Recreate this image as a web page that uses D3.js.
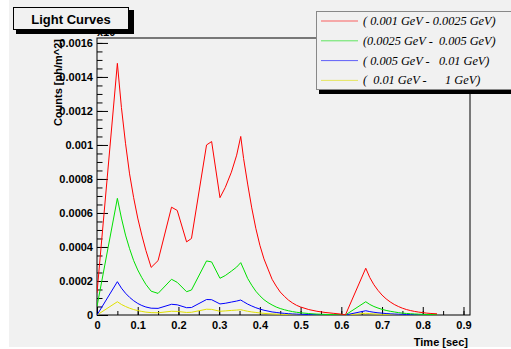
<!DOCTYPE html>
<html>
<head>
<meta charset="utf-8">
<script src="https://cdn.jsdelivr.net/npm/d3@7"></script>
<style>
  body { margin: 0; background: #ffffff; }
  svg text { font-family: "Liberation Sans", Arial, sans-serif; }
</style>
</head>
<body>
<div id="chart"></div>
<script>
// time bins [sec]
var times = [0, 0.05, 0.06, 0.07, 0.08, 0.09, 0.10, 0.11, 0.12, 0.133, 0.15, 0.183, 0.197, 0.22, 0.232, 0.269, 0.2815, 0.302, 0.315, 0.33, 0.343, 0.353,
  0.36, 0.37, 0.38, 0.39, 0.40, 0.41, 0.42, 0.43, 0.44, 0.45, 0.46, 0.47, 0.48, 0.49, 0.50, 0.52, 0.54, 0.56, 0.58, 0.60, 0.61,
  0.66, 0.67, 0.68, 0.69, 0.70, 0.71, 0.72, 0.73, 0.74, 0.75, 0.76, 0.77, 0.78, 0.79, 0.80, 0.81, 0.82, 0.835];

// counts per energy band [ph/m^2]
var band1 = [0.00013, 0.00148, 0.00122, 0.00101, 0.00083, 0.00069, 0.00057, 0.00047, 0.00038, 0.00028, 0.00032, 0.000634, 0.000615, 0.00043, 0.00045, 0.001, 0.00102, 0.00069, 0.00075, 0.00084, 0.00094, 0.00105,
  0.00092, 0.00077, 0.00063, 0.00051, 0.00041, 0.00033, 0.00027, 0.00021, 0.00017, 0.000135, 0.00011, 0.000088, 0.000071, 0.000057, 0.000047, 0.000032, 0.000022, 0.000015, 0.00001, 0.000005, 0,
  0.000275, 0.00022, 0.000178, 0.000145, 0.000117, 0.000095, 0.000077, 0.000062, 0.00005, 0.00004, 0.000032, 0.000026, 0.000021, 0.000017, 0.000014, 0.000011, 0.000009, 0.000007];
var band2 = [0.00005, 0.000686, 0.00057, 0.00047, 0.00039, 0.00032, 0.000265, 0.00022, 0.00018, 0.00014, 0.000127, 0.00021, 0.000192, 0.000137, 0.000147, 0.000318, 0.000312, 0.000216, 0.000232, 0.000258, 0.000282, 0.000308,
  0.00027, 0.000215, 0.000175, 0.00014, 0.000113, 0.00009, 0.000073, 0.000059, 0.000047, 0.000038, 0.000031, 0.000025, 0.00002, 0.000016, 0.000013, 0.0000085, 0.0000055, 0.0000035, 0.0000022, 0.0000012, 0,
  0.000078, 0.000062, 0.00005, 0.000041, 0.000033, 0.000027, 0.000022, 0.000018, 0.000014, 0.000011, 0.000009, 0.0000074, 0.000006, 0.0000048, 0.0000039, 0.0000031, 0.0000025, 0.000002];
var band3 = [0, 0.000196, 0.000158, 0.000128, 0.000104, 0.000084, 0.000068, 0.000056, 0.000047, 0.00004, 0.000039, 0.000063, 0.00006, 0.000043, 0.000044, 0.000091, 0.00009, 0.000065, 0.000069, 0.000076, 0.000082, 0.000088,
  0.000078, 0.000064, 0.000053, 0.000043, 0.000035, 0.000028, 0.000023, 0.000018, 0.000015, 0.000012, 0.0000097, 0.0000078, 0.0000063, 0.0000051, 0.0000041, 0.0000027, 0.0000018, 0.0000012, 0.0000008, 0.0000004, 0,
  0.000025, 0.00002, 0.000016, 0.000013, 0.000011, 0.0000087, 0.000007, 0.0000057, 0.0000046, 0.0000037, 0.000003, 0.0000024, 0.000002, 0.0000016, 0.0000013, 0.000001, 0.0000008, 0.0000006];
var band4 = [0, 0.000078, 0.000062, 0.00005, 0.00004, 0.000032, 0.000026, 0.000021, 0.000017, 0.000014, 0.000013, 0.000022, 0.000021, 0.000015, 0.000016, 0.000034, 0.000033, 0.000022, 0.000024, 0.000027, 0.000029, 0.000031,
  0.000027, 0.000022, 0.000018, 0.000015, 0.000012, 0.0000097, 0.0000079, 0.0000064, 0.0000052, 0.0000042, 0.0000034, 0.0000027, 0.0000022, 0.0000018, 0.0000014, 0.0000009, 0.0000006, 0.0000004, 0.0000003, 0.0000001, 0,
  0.00001, 0.000008, 0.0000065, 0.0000053, 0.0000043, 0.0000035, 0.0000028, 0.0000023, 0.0000018, 0.0000015, 0.0000012, 0.000001, 0.0000008, 0.0000006, 0.0000005, 0.0000004, 0.0000003, 0.0000003];

var bandLabels = ["( 0.001 GeV - 0.0025 GeV)", "(0.0025 GeV -  0.005 GeV)", "( 0.005 GeV -   0.01 GeV)", "(  0.01 GeV -      1 GeV)"];
var bandColors = ["#ff0000", "#00e000", "#0000ff", "#e0e000"];

var xTicks = [0, 0.1, 0.2, 0.3, 0.4, 0.5, 0.6, 0.7, 0.8, 0.9];
var yTicks = [0, 0.0002, 0.0004, 0.0006, 0.0008, 0.001, 0.0012, 0.0014, 0.0016];

var width = 511, height = 349;
var frame = { left: 97, top: 38, right: 470, bottom: 315 };

var svg = d3.select("#chart").append("svg")
    .attr("width", width)
    .attr("height", height);

// canvas background
svg.append("rect").attr("x", 9).attr("y", 0).attr("width", width - 9).attr("height", 347)
    .attr("fill", "#f1f1f1");

var x = d3.scaleLinear().domain([0, 0.916]).range([frame.left, frame.right]);
var y = d3.scaleLinear().domain([0, 0.001629]).range([frame.bottom, frame.top]);

svg.append("defs").append("clipPath").attr("id", "clip")
    .append("rect")
    .attr("x", frame.left).attr("y", frame.top)
    .attr("width", frame.right - frame.left).attr("height", frame.bottom - frame.top);

// minor ticks
var xMinor = d3.range(0, 0.916, 0.05);
var yMinor = d3.range(0, 0.00163, 0.00005);

svg.append("g")
    .attr("transform", "translate(0," + frame.bottom + ")")
    .call(d3.axisBottom(x).tickValues(xMinor).tickSizeInner(-4).tickSizeOuter(0).tickFormat(""))
    .call(g => g.select(".domain").remove());
svg.append("g")
    .attr("transform", "translate(" + frame.left + ",0)")
    .call(d3.axisLeft(y).tickValues(yMinor).tickSizeInner(-5.5).tickSizeOuter(0).tickFormat(""))
    .call(g => g.select(".domain").remove());

// major ticks + labels
var xAxis = svg.append("g")
    .attr("transform", "translate(0," + frame.bottom + ")")
    .call(d3.axisBottom(x).tickValues(xTicks).tickSizeInner(-8).tickSizeOuter(0).tickPadding(6)
        .tickFormat(d => d3.format("~g")(d)));
xAxis.select(".domain").remove();
xAxis.selectAll("text")
    .style("font-family", "'Liberation Sans', Arial, sans-serif")
    .style("font-size", "11px").style("font-weight", "bold").attr("fill", "#000");

var yAxis = svg.append("g")
    .attr("transform", "translate(" + frame.left + ",0)")
    .call(d3.axisLeft(y).tickValues(yTicks).tickSizeInner(-11).tickSizeOuter(0).tickPadding(4)
        .tickFormat(d => d3.format("~g")(d)));
yAxis.select(".domain").remove();
yAxis.selectAll("text")
    .style("font-family", "'Liberation Sans', Arial, sans-serif")
    .style("font-size", "11px").style("font-weight", "bold").attr("fill", "#000");
svg.selectAll(".tick line").attr("stroke", "#000");

// frame
svg.append("rect")
    .attr("x", frame.left).attr("y", frame.top)
    .attr("width", frame.right - frame.left).attr("height", frame.bottom - frame.top)
    .attr("fill", "none").attr("stroke", "#000").attr("stroke-width", 1);

// curves
var series = [band1, band2, band3, band4];
var line = d3.line()
    .x(function(d) { return x(d[0]); })
    .y(function(d) { return y(d[1]); });

var curves = svg.append("g").attr("clip-path", "url(#clip)");
curves.selectAll("path")
    .data(series.slice().reverse())
    .enter()
    .append("path")
    .attr("d", function(vals) { return line(times.map(function(t, i) { return [t, vals[i]]; })); })
    .attr("fill", "none")
    .attr("stroke", function(vals) { return bandColors[series.indexOf(vals)]; })
    .attr("stroke-width", 1);

// axis titles
svg.append("text")
    .attr("x", 468).attr("y", 346)
    .attr("text-anchor", "end")
    .style("font-size", "11px").style("font-weight", "bold")
    .text("Time [sec]");

svg.append("text")
    .attr("transform", "translate(62,39) rotate(-90)")
    .attr("text-anchor", "end")
    .style("font-size", "11px").style("font-weight", "bold")
    .text("Counts [ph/m^2]");

var expo = svg.append("text")
    .attr("x", 97).attr("y", 36)
    .style("font-size", "11px").style("font-weight", "bold");
expo.append("tspan").text("x10");
expo.append("tspan").attr("dy", -5).style("font-size", "8px").text("-1");

// title box
svg.append("rect").attr("x", 16).attr("y", 10).attr("width", 118).attr("height", 24).attr("fill", "#000");
svg.append("rect").attr("x", 13.5).attr("y", 7.5).attr("width", 115).attr("height", 22)
    .attr("fill", "#f1f1f1").attr("stroke", "#000");
svg.append("text")
    .attr("x", 71).attr("y", 24)
    .attr("text-anchor", "middle")
    .style("font-size", "13px").style("font-weight", "bold")
    .text("Light Curves");

// legend
svg.append("rect").attr("x", 319).attr("y", 14).attr("width", 195).attr("height", 80).attr("fill", "#000");
svg.append("rect").attr("x", 316.5).attr("y", 11.5).attr("width", 195).attr("height", 78)
    .attr("fill", "#f1f1f1").attr("stroke", "#888");

var legend = svg.append("g");
bandLabels.forEach(function(label, i) {
    var ly = 21 + i * 19.8;
    legend.append("line")
        .attr("x1", 321).attr("x2", 358).attr("y1", ly).attr("y2", ly)
        .attr("stroke", bandColors[i]).attr("stroke-width", 1).attr("opacity", 0.6);
    legend.append("text")
        .attr("x", 363).attr("y", ly + 4)
        .attr("xml:space", "preserve")
        .style("white-space", "pre")
        .style("font-family", "'Liberation Serif', 'Times New Roman', serif")
        .style("font-style", "italic")
        .style("font-size", "12.3px")
        .text(label);
});
</script>
</body>
</html>
